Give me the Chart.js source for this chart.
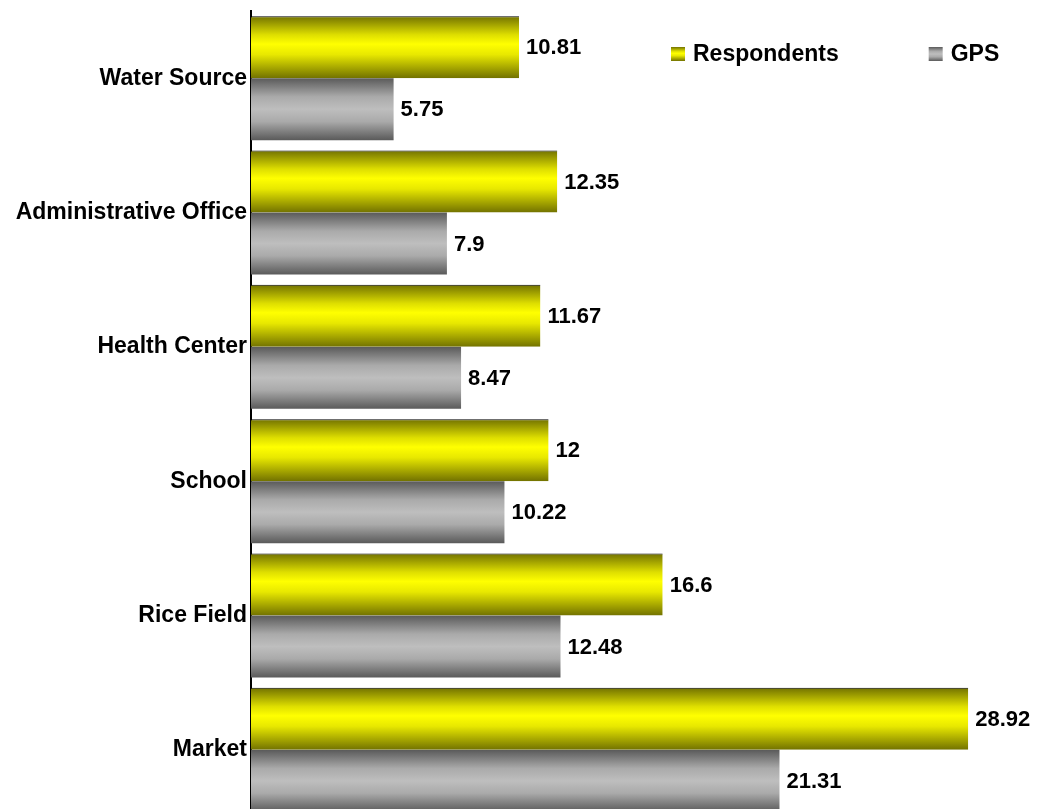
<!DOCTYPE html>
<html>
<head>
<meta charset="utf-8">
<script src="https://cdn.jsdelivr.net/npm/chart.js@4.4.0/dist/chart.umd.min.js"></script>
<style>
  html, body { margin: 0; padding: 0; background: #fff; overflow: hidden; }
  canvas { display: block; }
</style>
</head>
<body>
<canvas id="chart" width="1050" height="817"></canvas>
<script>
const categories = ['Water Source', 'Administrative Office', 'Health Center', 'School', 'Rice Field', 'Market'];
const respondents = [10.81, 12.35, 11.67, 12, 16.6, 28.92];
const gps = [5.75, 7.9, 8.47, 10.22, 12.48, 21.31];
const seriesNames = ['Respondents', 'GPS'];

const yellowStops = [[0, '#727200'], [0.3, '#dede00'], [0.45, '#ffff00'], [0.62, '#e8e800'], [1, '#727200']];
const greyStops = [[0, '#5a5a5a'], [0.3, '#aaaaaa'], [0.5, '#bebebe'], [0.7, '#aaaaaa'], [1, '#5a5a5a']];

const FONT = '"Liberation Sans", Arial, sans-serif';

function makeGradient(ctx, top, h, stops) {
    const g = ctx.createLinearGradient(0, top, 0, top + h);
    stops.forEach(s => g.addColorStop(s[0], s[1]));
    return g;
}

// gradient per bar, from the bar's own position
function barFill(stops, fallback) {
    return function (context) {
        const el = context.element;
        if (!el || !el.height || isNaN(el.y)) return fallback;
        return makeGradient(context.chart.ctx, el.y - el.height / 2, el.height, stops);
    };
}

const valueLabels = {
    id: 'valueLabels',
    afterDatasetsDraw(chart) {
        const ctx = chart.ctx;
        ctx.save();
        ctx.font = 'bold 22px ' + FONT;
        ctx.fillStyle = '#000';
        ctx.textAlign = 'left';
        ctx.textBaseline = 'middle';
        chart.data.datasets.forEach((ds, di) => {
            chart.getDatasetMeta(di).data.forEach((bar, i) => {
                ctx.fillText(String(ds.data[i]), bar.x + 7, bar.y + 1);
            });
        });
        ctx.restore();
    }
};

const legendBoxes = {
    id: 'legendBoxes',
    afterDraw(chart) {
        const ctx = chart.ctx;
        const stops = [yellowStops, greyStops];
        let x = 671;
        const y = 54;
        ctx.save();
        ctx.font = 'bold 23px ' + FONT;
        ctx.textBaseline = 'middle';
        ctx.textAlign = 'left';
        chart.data.datasets.forEach((ds, di) => {
            ctx.fillStyle = makeGradient(ctx, y - 7, 14, stops[di]);
            ctx.fillRect(x, y - 7, 14, 14);
            ctx.fillStyle = '#000';
            ctx.fillText(ds.label, x + 22, y + 1);
            x += 22 + ctx.measureText(ds.label).width + 90;
        });
        ctx.restore();
    }
};

const chart = new Chart(document.getElementById('chart'), {
    type: 'bar',
    data: {
        labels: categories,
        datasets: [
            {
                label: seriesNames[0],
                data: respondents,
                backgroundColor: barFill(yellowStops, '#e6e600'),
                borderColor: '#000',
                borderWidth: { top: 1, right: 0, bottom: 0, left: 0 },
                borderSkipped: 'start'
            },
            {
                label: seriesNames[1],
                data: gps,
                backgroundColor: barFill(greyStops, '#a8a8a8'),
                borderWidth: 0
            }
        ]
    },
    options: {
        indexAxis: 'y',
        responsive: false,
        animation: false,
        layout: { padding: { top: 11, right: 55, left: 0, bottom: 0 } },
        datasets: { bar: { barPercentage: 1, categoryPercentage: 0.923 } },
        plugins: {
            legend: { display: false },
            tooltip: { enabled: false }
        },
        scales: {
            x: {
                display: false,
                min: 0,
                max: 30
            },
            y: {
                afterFit(scale) {
                    scale.width = 251;
                    scale.paddingTop = 0;
                    scale.paddingBottom = 0;
                },
                grid: { display: true, drawOnChartArea: false, drawTicks: false, color: 'transparent' },
                border: { display: true, color: '#000', width: 2 },
                ticks: {
                    color: '#000',
                    padding: 4,
                    font: { family: FONT, size: 23, weight: 'bold' }
                }
            }
        }
    },
    plugins: [valueLabels, legendBoxes]
});
// second pass so the gradients can use the bar positions
chart.update('none');
</script>
</body>
</html>
